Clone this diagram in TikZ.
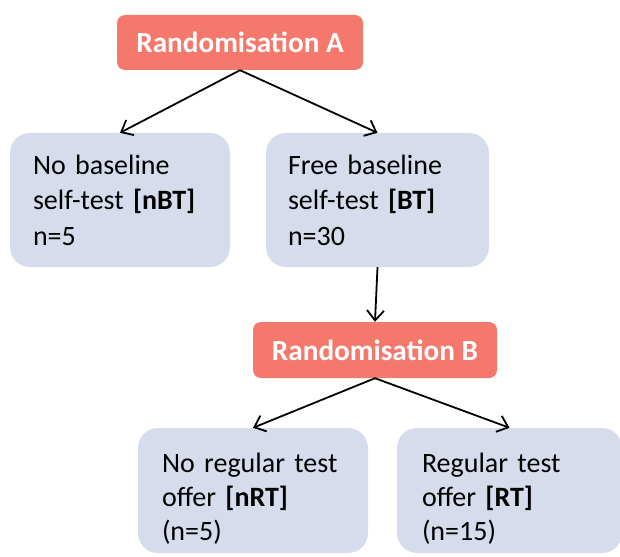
\documentclass[tikz,border=0pt]{standalone}
\usepackage{fontspec}
\setmainfont{Carlito}
\usetikzlibrary{arrows.meta}
\definecolor{salmon}{RGB}{244,120,108}
\definecolor{boxblue}{RGB}{214,220,235}
\begin{document}
\begin{tikzpicture}[x=1pt,y=-1pt,
  randbox/.style={fill=salmon, rounded corners=8pt, text=white, font=\fontsize{29.2}{34}\selectfont\bfseries, inner sep=0pt, minimum height=55pt},
  armbox/.style={fill=boxblue, rounded corners=20pt, align=left, inner xsep=23pt, inner ysep=0pt, font=\fontsize{28}{35.5}\selectfont},
  conn/.style={line width=1.8pt, -{Straight Barb[length=10pt,width=17pt,line width=1.8pt]}}]
\useasboundingbox (0,0) rectangle (620,556);
\node[randbox, minimum width=246pt] (A) at (240,42.5) {Randomisation A};
\node[armbox, minimum width=220pt, minimum height=134pt, text width=174pt] (nBT) at (120,200) {No baseline\\self-test \textbf{[nBT]}\\n=5};
\node[armbox, minimum width=223pt, minimum height=134pt, text width=179pt, inner xsep=22pt] (BT) at (377.5,200) {Free baseline\\self-test \textbf{[BT]}\\n=30};
\node[randbox, minimum width=244pt, minimum height=56pt] (B) at (375,350) {Randomisation B};
\node[armbox, minimum width=230pt, minimum height=125pt, text width=182pt, inner xsep=24pt, font=\fontsize{28}{34}\selectfont] (nRT) at (253,490.5) {\rule{0pt}{36pt}No regular test\\offer \textbf{[nRT]}\\(n=5)};
\node[armbox, minimum width=225pt, minimum height=125pt, text width=175pt, inner xsep=25pt, font=\fontsize{28}{34}\selectfont] (RT) at (509.5,490.5) {\rule{0pt}{36pt}Regular test\\offer \textbf{[RT]}\\(n=15)};
\draw[conn] (A.south) -- (nBT.north);
\draw[conn] (A.south) -- (BT.north);
\draw[conn] (BT.south) -- (B.north);
\draw[conn] (B.south) -- (nRT.north);
\draw[conn] (B.south) -- (RT.north);
\end{tikzpicture}
\end{document}
